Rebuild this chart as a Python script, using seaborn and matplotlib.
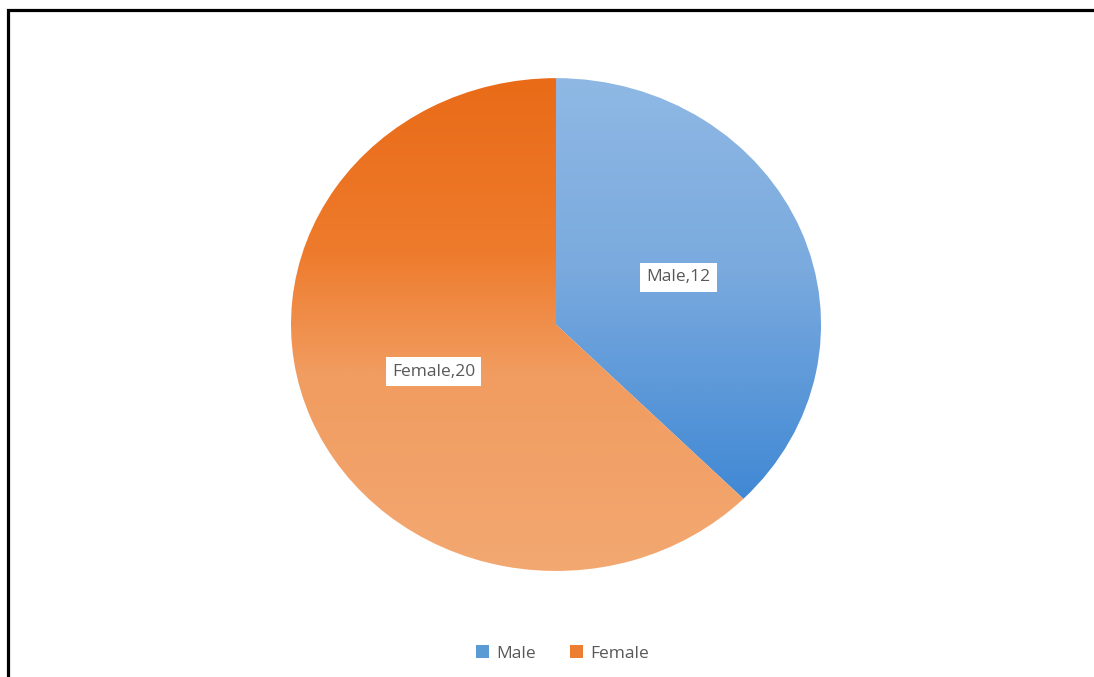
import numpy as np
import matplotlib
matplotlib.use("Agg")
import matplotlib.pyplot as plt
import seaborn as sns
from matplotlib.colors import LinearSegmentedColormap
from matplotlib.patches import Patch, Rectangle

# Data
categories = ["Male", "Female"]
counts = [12, 20]

sns.set_theme(style="white")
plt.rcParams["font.family"] = ["Open Sans", "DejaVu Sans"]

legend_colors = sns.color_palette(["#5b9bd5", "#ed7d31"])

fig = plt.figure(figsize=(10.94, 6.77), dpi=100)
fig.patch.set_facecolor("white")

# Pie axes, slightly wider than tall
ax = fig.add_axes([0.266, 0.1566, 0.4845, 0.728])
wedges, texts = ax.pie(
    counts,
    labels=[f"{c},{v}" for c, v in zip(categories, counts)],
    startangle=90,
    counterclock=False,
    labeldistance=0.5,
    radius=1.0,
    textprops=dict(color="#595959", fontsize=12.5, ha="center", va="center"),
)
ax.set_aspect("auto")
ax.axis("off")

for t in texts:
    t.set_bbox(dict(facecolor="white", edgecolor="none", pad=4.5))
    t.set_zorder(10)

# Vertical gradient fills per slice
gradients = [
    [(0.0, "#8fb8e4"), (0.45, "#7aaade"), (1.0, "#4088d4")],
    [(0.0, "#e96b18"), (0.35, "#ee7b2c"), (0.6, "#f19c60"), (1.0, "#f3a871")],
]
extents = [(-1, 1, -0.72, 1.0), (-1, 1, -1.0, 1.0)]
ramp = np.linspace(0, 1, 400).reshape(-1, 1)
for w, stops, extent in zip(wedges, gradients, extents):
    cmap = LinearSegmentedColormap.from_list("g", stops)
    w.set_facecolor("none")
    w.set_edgecolor("none")
    im = ax.imshow(ramp, cmap=cmap, extent=extent, origin="upper",
                   aspect="auto", zorder=1, interpolation="bilinear")
    im.set_clip_path(w)
ax.set_xlim(-1, 1)
ax.set_ylim(-1, 1)

# Legend
handles = [Patch(facecolor=c, edgecolor="none") for c in legend_colors]
fig.legend(
    handles, categories, loc="center", bbox_to_anchor=(0.514, 0.035),
    ncol=2, frameon=False, fontsize=12.5, handlelength=0.75, handleheight=0.75,
    handletextpad=0.4, columnspacing=2.0, labelcolor="#595959",
)

# Outer frame (left and top edges visible)
fig.add_artist(Rectangle((7.5 / 1094, -0.2), 1.5, 1.2 - 9.5 / 677,
                         transform=fig.transFigure, fill=False,
                         edgecolor="black", linewidth=2.3, clip_on=False))

fig.savefig("out.png", dpi=100, facecolor="white")
